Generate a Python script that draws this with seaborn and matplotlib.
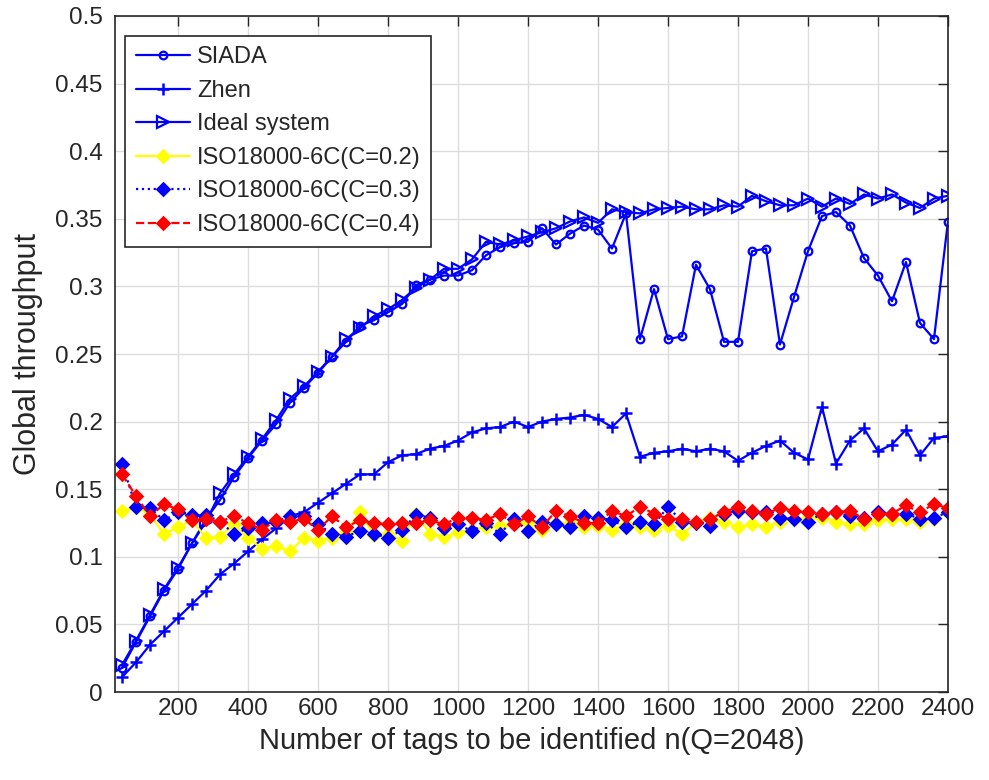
import numpy as np
import matplotlib
matplotlib.use("Agg")
import matplotlib.pyplot as plt
import seaborn as sns
from matplotlib.ticker import FuncFormatter, MultipleLocator

n_tags = np.arange(40, 2401, 40)

siada = [0.018, 0.037, 0.056, 0.075, 0.091, 0.110, 0.128, 0.142, 0.159, 0.173,
         0.186, 0.198, 0.214, 0.225, 0.236, 0.248, 0.259, 0.271, 0.275, 0.281,
         0.287, 0.301, 0.305, 0.308, 0.308, 0.312, 0.323, 0.329, 0.332, 0.333,
         0.343, 0.331, 0.339, 0.345, 0.342, 0.328, 0.354, 0.261, 0.298, 0.261,
         0.263, 0.316, 0.298, 0.259, 0.259, 0.326, 0.328, 0.257, 0.292, 0.326,
         0.352, 0.355, 0.345, 0.321, 0.308, 0.289, 0.318, 0.273, 0.261, 0.348]

zhen = [0.011, 0.022, 0.035, 0.045, 0.055, 0.065, 0.075, 0.087, 0.095, 0.104,
        0.113, 0.121, 0.130, 0.133, 0.140, 0.147, 0.154, 0.161, 0.161, 0.170,
        0.175, 0.176, 0.180, 0.182, 0.186, 0.192, 0.195, 0.196, 0.200, 0.196,
        0.200, 0.202, 0.203, 0.205, 0.202, 0.196, 0.206, 0.174, 0.177, 0.178,
        0.180, 0.178, 0.180, 0.178, 0.171, 0.177, 0.182, 0.186, 0.177, 0.172,
        0.211, 0.169, 0.186, 0.195, 0.178, 0.183, 0.194, 0.175, 0.188, 0.189]

ideal = [0.020, 0.038, 0.057, 0.076, 0.092, 0.110, 0.126, 0.147, 0.161, 0.174,
         0.187, 0.201, 0.217, 0.226, 0.237, 0.248, 0.261, 0.269, 0.278, 0.283,
         0.290, 0.299, 0.305, 0.313, 0.313, 0.320, 0.333, 0.331, 0.334, 0.337,
         0.340, 0.343, 0.348, 0.351, 0.347, 0.357, 0.355, 0.354, 0.357, 0.358,
         0.359, 0.357, 0.357, 0.360, 0.359, 0.367, 0.363, 0.360, 0.360, 0.365,
         0.359, 0.365, 0.361, 0.368, 0.365, 0.368, 0.362, 0.358, 0.365, 0.367]

iso_c02 = [0.134, 0.137, 0.131, 0.117, 0.122, 0.127, 0.114, 0.115, 0.124, 0.114,
           0.106, 0.108, 0.104, 0.114, 0.112, 0.114, 0.118, 0.133, 0.116, 0.117,
           0.112, 0.132, 0.117, 0.115, 0.118, 0.120, 0.122, 0.123, 0.125, 0.125,
           0.120, 0.125, 0.125, 0.122, 0.123, 0.120, 0.124, 0.122, 0.120, 0.123,
           0.117, 0.125, 0.129, 0.126, 0.122, 0.124, 0.122, 0.126, 0.128, 0.129,
           0.129, 0.126, 0.124, 0.124, 0.127, 0.128, 0.128, 0.126, 0.128, 0.133]

iso_c03 = [0.169, 0.137, 0.136, 0.127, 0.133, 0.131, 0.131, 0.126, 0.117, 0.121,
           0.125, 0.126, 0.130, 0.130, 0.124, 0.117, 0.115, 0.119, 0.117, 0.114,
           0.120, 0.131, 0.129, 0.121, 0.124, 0.119, 0.125, 0.117, 0.128, 0.119,
           0.126, 0.124, 0.122, 0.130, 0.129, 0.127, 0.122, 0.126, 0.124, 0.137,
           0.126, 0.125, 0.123, 0.132, 0.134, 0.133, 0.133, 0.129, 0.128, 0.126,
           0.132, 0.133, 0.130, 0.129, 0.133, 0.132, 0.132, 0.128, 0.129, 0.133]

iso_c04 = [0.161, 0.145, 0.130, 0.139, 0.135, 0.127, 0.128, 0.126, 0.130, 0.125,
           0.120, 0.127, 0.126, 0.128, 0.120, 0.130, 0.122, 0.127, 0.125, 0.124,
           0.125, 0.125, 0.127, 0.124, 0.129, 0.129, 0.127, 0.132, 0.124, 0.130,
           0.122, 0.134, 0.130, 0.125, 0.125, 0.134, 0.130, 0.137, 0.132, 0.128,
           0.128, 0.126, 0.128, 0.133, 0.137, 0.134, 0.132, 0.136, 0.134, 0.133,
           0.132, 0.133, 0.134, 0.128, 0.132, 0.132, 0.138, 0.133, 0.139, 0.136]

series_names = ["SIADA", "Zhen", "Ideal system",
                "ISO18000-6C(C=0.2)", "ISO18000-6C(C=0.3)", "ISO18000-6C(C=0.4)"]

sns.set_theme(style="white")
plt.rcParams['font.family'] = ['Liberation Sans', 'DejaVu Sans']

fig = plt.figure(figsize=(9.89, 7.80), dpi=100)
ax = fig.add_axes([0.1163, 0.1128, 0.8422, 0.8667])

blue = "#0000FF"
lw = 1.6
sns.lineplot(x=n_tags, y=siada, ax=ax, color=blue, lw=lw, marker='o', ms=5.5,
             mfc='none', mec=blue, mew=1.6, label=series_names[0])
sns.lineplot(x=n_tags, y=zhen, ax=ax, color=blue, lw=lw, marker='+', ms=9,
             mec=blue, mew=1.8, label=series_names[1])
sns.lineplot(x=n_tags, y=ideal, ax=ax, color=blue, lw=lw, marker='>', ms=8.5,
             mfc='none', mec=blue, mew=1.6, label=series_names[2])
sns.lineplot(x=n_tags, y=iso_c02, ax=ax, color="#FFFF00", lw=lw, marker='D', ms=6.2,
             mfc="#FFFF00", mec="#FFFF00", mew=1.8, label=series_names[3])
sns.lineplot(x=n_tags, y=iso_c03, ax=ax, color=blue, lw=lw, ls=':', marker='D', ms=6.2,
             mfc=blue, mec=blue, mew=1.8, label=series_names[4])
sns.lineplot(x=n_tags, y=iso_c04, ax=ax, color="#FF0000", lw=lw, ls='--', marker='D', ms=6.2,
             mfc="#FF0000", mec="#FF0000", mew=1.8, label=series_names[5])

ax.set_xlim(20, 2400)
ax.set_ylim(0, 0.5)
ax.set_xticks(np.arange(200, 2401, 200))
ax.yaxis.set_major_locator(MultipleLocator(0.05))
ax.yaxis.set_major_formatter(FuncFormatter(lambda v, p: f"{v:g}" if abs(v) > 1e-9 else "0"))

ax.grid(True, color="#DCDCDC", lw=1.0)
ax.set_axisbelow(True)
dark = "#262626"
for s in ax.spines.values():
    s.set_visible(True)
    s.set_color(dark)
    s.set_linewidth(1.2)
ax.tick_params(axis='both', which='major', direction='in', length=7, width=1.0,
               colors=dark, labelsize=17.5, top=True, right=True,
               labelcolor="#262626")
ax.tick_params(axis='y', pad=9)
ax.tick_params(axis='x', pad=4)

ax.set_xlabel("Number of tags to be identified n(Q=2048)", fontsize=21, color=dark, labelpad=5)
ax.set_ylabel("Global throughput", fontsize=22, color=dark, labelpad=9)

leg = ax.legend(loc='upper left', bbox_to_anchor=(0.012, 0.971), fontsize=17,
                frameon=True, fancybox=False, framealpha=1, edgecolor=dark,
                borderpad=0.45, labelspacing=0.49, handlelength=2.3, handletextpad=0.3,
                borderaxespad=0.0)
leg.get_frame().set_linewidth(1.2)

fig.savefig("out.png", dpi=100)
